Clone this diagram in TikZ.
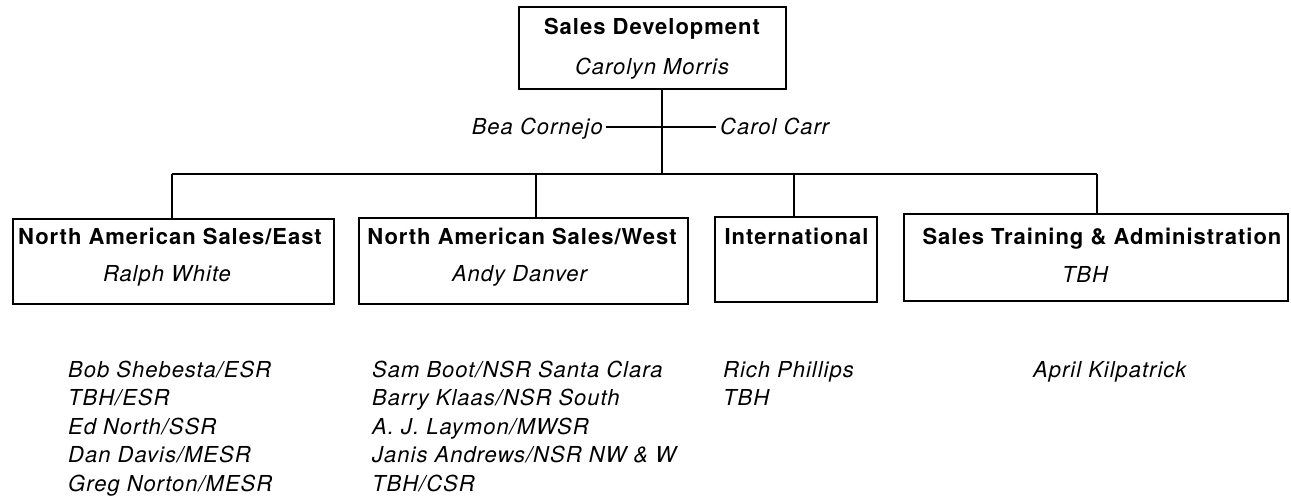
\documentclass[tikz,border=0pt]{standalone}
\usepackage{fontspec}
\setmainfont{TeX Gyre Heros}[LetterSpace=4.5]
\begin{document}
\begin{tikzpicture}[x=1pt,y=-1pt,
  box/.style={draw, line width=2.4pt, inner sep=0pt},
  ttl/.style={font=\fontsize{22}{26}\selectfont\bfseries, inner sep=0pt, anchor=base},
  nm/.style={font=\fontsize{22}{26}\selectfont\itshape, inner sep=0pt, anchor=base},
  lst/.style={font=\fontsize{22}{26}\selectfont\itshape, inner sep=0pt, anchor=base west},
  conn/.style={line width=2pt}]
\useasboundingbox (0,0) rectangle (1291,497);

% top box
\node[box, minimum width=267pt, minimum height=82pt] (top) at (652.5,48) {};
\node[ttl] (topT) at (652,35) {Sales Development};
\node[nm] (topN) at (652,75) {Carolyn Morris};

% assistants
\node[nm, anchor=base east] (bea) at (603,135) {Bea Cornejo};
\node[nm, anchor=base west] (carol) at (720,135) {Carol Carr};
\draw[conn] ([xshift=3pt,yshift=7.5pt]bea.base east) -- ([xshift=-4pt,yshift=7.5pt]carol.base west);

% department boxes
\node[box, minimum width=321pt, minimum height=85pt] (b1) at (173.5,261.5) {};
\node[box, minimum width=329pt, minimum height=86pt] (b2) at (523.5,261) {};
\node[box, minimum width=162pt, minimum height=85pt] (b3) at (796,259.5) {};
\node[box, minimum width=384pt, minimum height=87pt] (b4) at (1096,257.5) {};

\node[ttl] (b1T) at (170,245) {North American Sales/East};
\node[nm]  (b1N) at (167,282) {Ralph White};
\node[ttl] (b2T) at (522,245) {North American Sales/West};
\node[nm]  (b2N) at (519.5,282) {Andy Danver};
\node[ttl] (b3T) at (796.5,245) {International};
\node[ttl] (b4T) at (1102,245) {Sales Training \& Administration};
\node[nm]  (b4N) at (1085,283) {TBH};

% connectors
\coordinate (j) at (662,174);
\coordinate (d1) at (172,174);
\coordinate (d2) at (536,174);
\coordinate (d3) at (794,174);
\coordinate (d4) at (1097,174);
\draw[conn] (j |- top.south) -- (j);
\draw[conn] (d1) -- (d4);
\draw[conn] (d1) -- (d1 |- b1.north);
\draw[conn] (d2) -- (d2 |- b2.north);
\draw[conn] (d3) -- (d3 |- b3.north);
\draw[conn] (d4) -- (d4 |- b4.north);

% staff lists
\node[lst] (e1) at (68,377) {Bob Shebesta/ESR};
\node[lst] (e2) at (68,405.5) {TBH/ESR};
\node[lst] (e3) at (68,434) {Ed North/SSR};
\node[lst] (e4) at (68,462.5) {Dan Davis/MESR};
\node[lst] (e5) at (68,491) {Greg Norton/MESR};

\node[lst] (w1) at (372,377) {Sam Boot/NSR Santa Clara};
\node[lst] (w2) at (372,405.5) {Barry Klaas/NSR South};
\node[lst] (w3) at (372,434) {A. J. Laymon/MWSR};
\node[lst] (w4) at (372,462.5) {Janis Andrews/NSR NW \& W};
\node[lst] (w5) at (372,491) {TBH/CSR};

\node[lst] (i1) at (723,377) {Rich Phillips};
\node[lst] (i2) at (723,405.5) {TBH};

\node[lst] (s1) at (1033,377) {April Kilpatrick};
\end{tikzpicture}
\end{document}
